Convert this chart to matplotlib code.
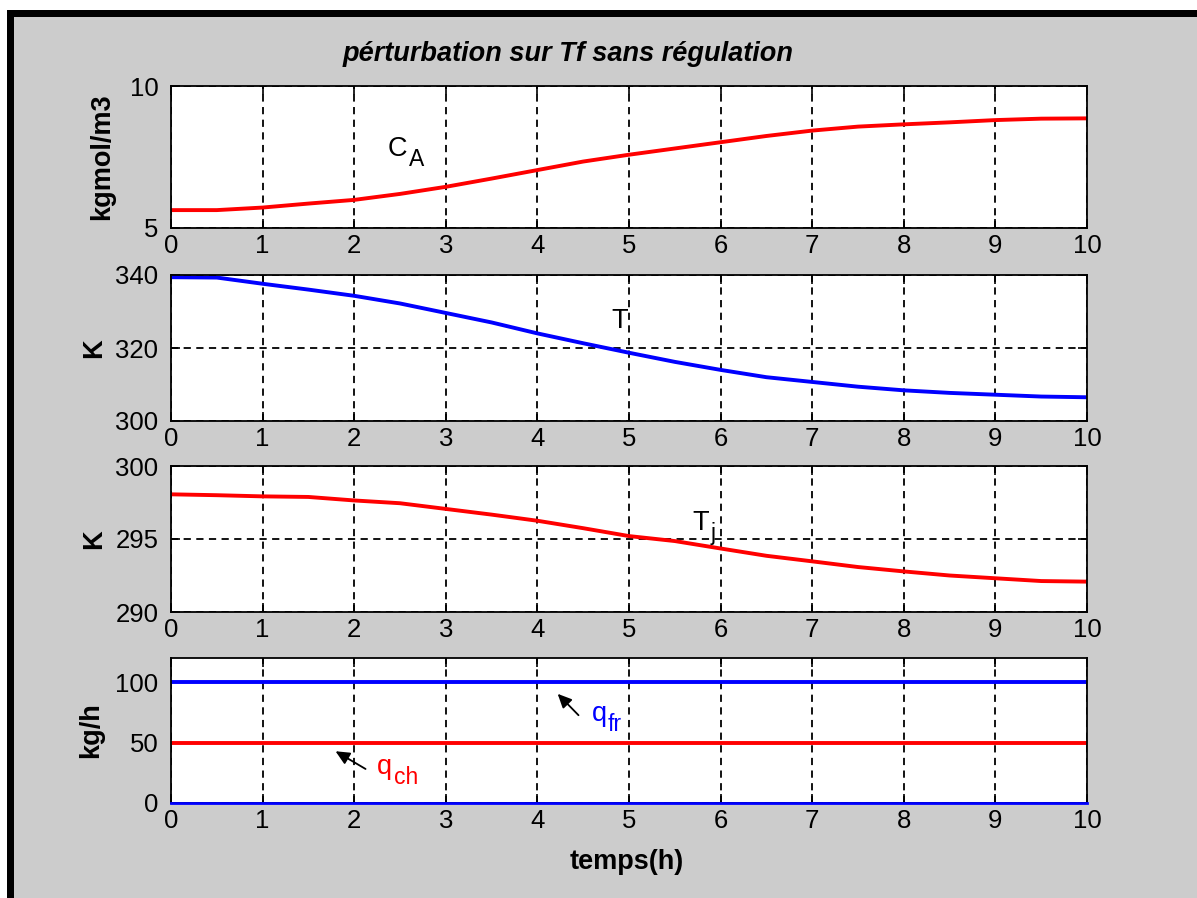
import matplotlib.pyplot as plt
from matplotlib.patches import Rectangle

plt.rcParams['font.family'] = ['Liberation Sans', 'DejaVu Sans']

# ==========================================
# Data
# ==========================================

temps = [0, 0.5, 1, 1.5, 2, 2.5, 3, 3.5, 4, 4.5, 5,
         5.5, 6, 6.5, 7, 7.5, 8, 8.5, 9, 9.5, 10]

ca = [5.63, 5.63, 5.72, 5.86, 5.99, 6.20, 6.45, 6.74, 7.04, 7.34, 7.58,
      7.80, 8.02, 8.24, 8.43, 8.57, 8.65, 8.72, 8.80, 8.85, 8.86]

temp_t = [339.4, 339.3, 337.6, 336.0, 334.3, 332.2, 329.6, 327.0, 324.0, 321.3, 318.7,
          316.2, 314.0, 312.0, 310.7, 309.4, 308.4, 307.7, 307.2, 306.7, 306.5]

temp_tj = [298.06, 298.00, 297.92, 297.88, 297.64, 297.45, 297.06, 296.67, 296.25, 295.74, 295.20,
           294.86, 294.35, 293.85, 293.47, 293.08, 292.78, 292.50, 292.31, 292.12, 292.08]

temps_q = [0, 10]
q_fr = [100, 100]
q_ch = [50, 50]
q_nul = [0, 0]

x_ticks = [0, 1, 2, 3, 4, 5, 6, 7, 8, 9, 10]

W, H = 1197, 898

# ==========================================
# Figure + MATLAB-like frame
# ==========================================

fig = plt.figure(figsize=(W / 100, H / 100), dpi=100, facecolor='white')

fig.patches.append(Rectangle((14 / W, 0), 1 - 14 / W, 1 - 17 / H,
                             transform=fig.transFigure, facecolor='#cccccc',
                             edgecolor='none', zorder=-10))
fig.patches.append(Rectangle((7 / W, 1 - 17 / H), 1 - 7 / W, 7 / H,
                             transform=fig.transFigure, facecolor='black',
                             edgecolor='none', zorder=-9))
fig.patches.append(Rectangle((7 / W, 0), 7 / W, 1 - 10 / H,
                             transform=fig.transFigure, facecolor='black',
                             edgecolor='none', zorder=-9))


def make_axes(top_px, bottom_px):
    ax = fig.add_axes([171 / W, 1 - bottom_px / H, (1087 - 171) / W, (bottom_px - top_px) / H])
    ax.set_facecolor('white')
    ax.set_xlim(0, 10)
    ax.set_xticks(x_ticks)
    ax.grid(True, color='black', linestyle=(0, (4, 3)), linewidth=1.3)
    ax.tick_params(direction='in', length=6.5, width=1.2, top=True, right=True,
                   labelsize=18.5, colors='black')
    ax.tick_params(axis='x', pad=4.5)
    ax.tick_params(axis='y', pad=9)
    for s in ax.spines.values():
        s.set_linewidth(1.3)
    return ax


def label_sub(ax, x, y, main, sub, color='black'):
    t = ax.text(x, y, main, fontsize=19.5, color=color, ha='left', va='baseline')
    ax.annotate(sub, xy=(1, 0), xycoords=t, xytext=(1, -3),
                textcoords='offset points', fontsize=16.5, color=color,
                ha='left', va='baseline')


# ==========================================
# Subplot 1 : CA
# ==========================================

ax1 = make_axes(86, 228)
ax1.plot(temps, ca, color='red', linewidth=2.8)
ax1.set_ylim(5, 10)
ax1.set_yticks([5, 10])
ax1.set_ylabel('kgmol/m3', fontsize=19.5, fontweight='bold')
ax1.yaxis.set_label_coords(-0.061, 0.5)
label_sub(ax1, 2.37, 7.54, 'C', 'A')

# ==========================================
# Subplot 2 : T
# ==========================================

ax2 = make_axes(275, 421)
ax2.plot(temps, temp_t, color='blue', linewidth=2.8)
ax2.set_ylim(300, 340)
ax2.set_yticks([300, 320, 340])
ax2.set_ylabel('K', fontsize=19.5, fontweight='bold')
ax2.yaxis.set_label_coords(-0.070, 0.5)
ax2.text(4.81, 325.6, 'T', fontsize=19.5, ha='left', va='baseline')

# ==========================================
# Subplot 3 : Tj
# ==========================================

ax3 = make_axes(466, 612)
ax3.plot(temps, temp_tj, color='red', linewidth=2.8)
ax3.set_ylim(290, 300)
ax3.set_yticks([290, 295, 300])
ax3.set_ylabel('K', fontsize=19.5, fontweight='bold')
ax3.yaxis.set_label_coords(-0.070, 0.5)
label_sub(ax3, 5.69, 295.65, 'T', 'j')

# ==========================================
# Subplot 4 : debits
# ==========================================

ax4 = make_axes(658, 803)
ax4.plot(temps_q, q_fr, color='blue', linewidth=2.8)
ax4.plot(temps_q, q_ch, color='red', linewidth=2.8)
ax4.plot(temps_q, q_nul, color='blue', linewidth=2.0, clip_on=False, zorder=3)
ax4.set_ylim(0, 120)
ax4.set_yticks([0, 50, 100])
ax4.set_ylabel('kg/h', fontsize=19.5, fontweight='bold')
ax4.yaxis.set_label_coords(-0.073, 0.5)

arrow = dict(arrowstyle='-|>,head_length=0.6,head_width=0.28',
             color='black', linewidth=1.3, mutation_scale=14)
ax4.annotate('', xy=(4.2, 92), xytext=(4.47, 71), arrowprops=arrow)
ax4.annotate('', xy=(1.77, 44), xytext=(2.15, 27), arrowprops=arrow)
label_sub(ax4, 4.59, 68, 'q', 'fr', color='blue')
label_sub(ax4, 2.25, 24.4, 'q', 'ch', color='red')

# ==========================================
# Title and x label
# ==========================================

fig.text(568 / W, 1 - 54 / H, 'pérturbation sur Tf sans régulation',
         fontsize=19.5, fontweight='bold', fontstyle='italic',
         ha='center', va='center')
fig.text(627 / W, 1 - 862 / H, 'temps(h)', fontsize=19.5, fontweight='bold',
         ha='center', va='center')

plt.savefig('out.png', dpi=100, facecolor=fig.get_facecolor())
